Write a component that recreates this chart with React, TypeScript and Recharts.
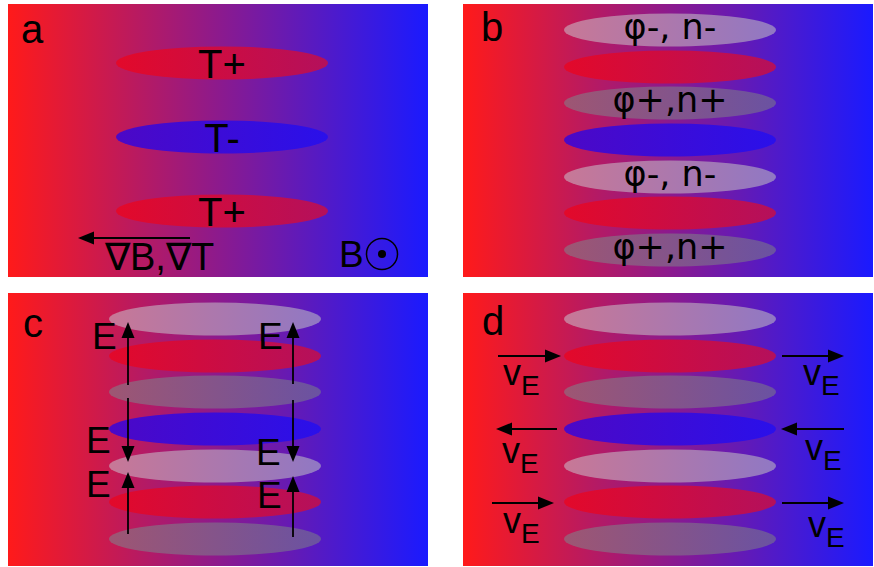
import { ScatterChart, Scatter, XAxis, YAxis, ReferenceArea, ReferenceLine } from "recharts";

const SANS = "'Liberation Sans', Arial, sans-serif";
const DEJAVU = "'DejaVu Sans', sans-serif";

// stripes shared by panels b, c and d (y from panel top)
const stripeRows = [26, 63, 99, 136, 173, 209, 246];
const stripeKinds = ["light", "red", "gray", "blue", "light", "red", "gray"];
const stripeLabelsB = ["φ-, n-", "", "φ+,n+", "", "φ-, n-", "", "φ+,n+"];

// panel a stripes
const rowsA = [59, 133, 207];
const kindsA = ["red", "blue", "red"];
const labelsA = ["T+", "T-", "T+"];

// panel c: E field arrows (x, tail y, tip y) and their labels
const eArrowX = [120, 120, 120, 285, 285, 285];
const eArrowTail = [92, 105, 241, 91, 107, 244];
const eArrowTip = [29, 169, 179, 29, 169, 183];
const eLabelX = [84, 78, 78, 250, 248, 249];
const eLabelY = [56, 160, 204, 56, 172, 215];

// panel d: E x B drift arrows (y, tail x, tip x) and their labels
const vArrowY = [63, 63, 136, 136, 210, 210];
const vArrowTail = [35, 319, 94, 381, 29, 319];
const vArrowTip = [98, 381, 33, 318, 91, 381];
const vLabelX = [40, 340, 39, 342, 40, 345];
const vLabelY = [92, 92, 170, 167, 240, 244];

const STRIPE_X = { a: 214, b: 207 };
const STRIPE_RX = 106;
const STRIPE_RY = 16.5;

const STRIPE_COLORS: Record<string, [string, string]> = {
  red: ["#e3092a", "#b4105c"],
  blue: ["#4c08c6", "#2a10ea"],
  light: ["#c87896", "#9078c4"],
  gray: ["#9e5672", "#6a52a2"],
};

type Stripe = { x: number; y: number; kind: string; label: string };
type Note = { x: number; y: number; kind: string; text: string };
type Arrow = { x1: number; y1: number; x2: number; y2: number };

const stripesA: Stripe[] = rowsA.map((y, i) => ({ x: STRIPE_X.a, y, kind: kindsA[i], label: labelsA[i] }));
const stripesB: Stripe[] = stripeRows.map((y, i) => ({ x: STRIPE_X.b, y, kind: stripeKinds[i], label: stripeLabelsB[i] }));
const stripesPlain: Stripe[] = stripeRows.map((y, i) => ({ x: STRIPE_X.b, y, kind: stripeKinds[i], label: "" }));

const notesA: Note[] = [
  { x: 13, y: 39, kind: "letter", text: "a" },
  { x: 97, y: 266, kind: "big", text: "∇B,∇T" },
  { x: 331, y: 263, kind: "B", text: "B" },
  { x: 374, y: 250, kind: "odot", text: "" },
];
const notesB: Note[] = [{ x: 18, y: 37, kind: "letter", text: "b" }];
const notesC: Note[] = [
  { x: 15, y: 44, kind: "letter", text: "c" },
  ...eLabelX.map((x, i) => ({ x, y: eLabelY[i], kind: "E", text: "E" })),
];
const notesD: Note[] = [
  { x: 19, y: 42, kind: "letter", text: "d" },
  ...vLabelX.map((x, i) => ({ x, y: vLabelY[i], kind: "v", text: "v" })),
];

const arrowsA: Arrow[] = [{ x1: 182, y1: 234, x2: 70, y2: 234 }];
const arrowsC: Arrow[] = eArrowX.map((x, i) => ({ x1: x, y1: eArrowTail[i], x2: x, y2: eArrowTip[i] }));
const arrowsD: Arrow[] = vArrowY.map((y, i) => ({ x1: vArrowTail[i], y1: y, x2: vArrowTip[i], y2: y }));

const arrowShape = (p: any) => {
  const { x1, y1, x2, y2 } = p;
  const len = Math.hypot(x2 - x1, y2 - y1) || 1;
  const ux = (x2 - x1) / len;
  const uy = (y2 - y1) / len;
  const hl = 16;
  const hw = 6.5;
  const bx = x2 - ux * hl;
  const by = y2 - uy * hl;
  const pts = `${x2},${y2} ${bx - uy * hw},${by + ux * hw} ${bx + uy * hw},${by - ux * hw}`;
  return (
    <g>
      <line x1={x1} y1={y1} x2={bx} y2={by} stroke="#000" strokeWidth={1.8} />
      <polygon points={pts} fill="#000" />
    </g>
  );
};

const noteShape = (p: any) => {
  const { cx, cy, payload } = p;
  if (payload.kind === "odot") {
    return (
      <g>
        <circle cx={cx} cy={cy} r={15.5} fill="none" stroke="#000" strokeWidth={1.5} />
        <circle cx={cx} cy={cy} r={4} fill="#000" />
      </g>
    );
  }
  if (payload.kind === "v") {
    return (
      <text x={cx} y={cy} fontFamily={SANS} fontSize={36} fill="#000">
        v<tspan fontSize={28} dy={10}>E</tspan>
      </text>
    );
  }
  const size = { letter: 40, big: 38, B: 37, E: 37 }[payload.kind as "letter"] || 36;
  return (
    <text x={cx} y={cy} fontFamily={SANS} fontSize={size} fill="#000">
      {payload.text}
    </text>
  );
};

function Panel({
  id, left, top, width, height, stripes, notes, arrows, labelFont,
}: {
  id: string; left: number; top: number; width: number; height: number;
  stripes: Stripe[]; notes: Note[]; arrows: Arrow[]; labelFont: "sans" | "dejavu";
}) {
  const stripeShape = (p: any) => {
    const { cx, cy, payload } = p;
    const isSans = labelFont === "sans";
    return (
      <g>
        <ellipse cx={cx} cy={cy} rx={STRIPE_RX} ry={STRIPE_RY} fill={`url(#${id}-${payload.kind})`} />
        {payload.label ? (
          <text
            x={cx}
            y={cy + (isSans ? 15 : 9)}
            textAnchor="middle"
            fontFamily={isSans ? SANS : DEJAVU}
            fontSize={isSans ? 40 : 35}
            fill="#000"
          >
            {payload.label}
          </text>
        ) : null}
      </g>
    );
  };

  return (
    <div style={{ position: "absolute", left, top, width, height }}>
      <ScatterChart width={width} height={height} margin={{ top: 0, right: 0, bottom: 0, left: 0 }}>
        <defs>
          <linearGradient id={`${id}-bg`} x1="0" y1="0" x2="1" y2="0">
            <stop offset="0%" stopColor="#ff1a1a" />
            <stop offset="100%" stopColor="#1a1aff" />
          </linearGradient>
          {Object.entries(STRIPE_COLORS).map(([k, [c1, c2]]) => (
            <linearGradient key={k} id={`${id}-${k}`} x1="0" y1="0" x2="1" y2="0">
              <stop offset="0%" stopColor={c1} />
              <stop offset="100%" stopColor={c2} />
            </linearGradient>
          ))}
        </defs>
        <XAxis type="number" dataKey="x" domain={[0, width]} hide allowDataOverflow />
        <YAxis type="number" dataKey="y" domain={[0, height]} reversed hide allowDataOverflow />
        <ReferenceArea x1={0} x2={width} y1={0} y2={height} fill={`url(#${id}-bg)`} fillOpacity={1} stroke="none" />
        <Scatter data={stripes} shape={stripeShape} isAnimationActive={false} />
        {arrows.map((a, i) => (
          <ReferenceLine
            key={i}
            segment={[{ x: a.x1, y: a.y1 }, { x: a.x2, y: a.y2 }]}
            shape={arrowShape}
            zIndex={800}
          />
        ))}
        <Scatter data={notes} shape={noteShape} isAnimationActive={false} />
      </ScatterChart>
    </div>
  );
}

export default function App() {
  return (
    <div style={{ position: "absolute", left: 0, top: 0, width: 874, height: 567, background: "#fff" }}>
      <Panel id="pa" left={8} top={4} width={420} height={273} stripes={stripesA} notes={notesA} arrows={arrowsA} labelFont="sans" />
      <Panel id="pb" left={463} top={4} width={410} height={273} stripes={stripesB} notes={notesB} arrows={[]} labelFont="dejavu" />
      <Panel id="pc" left={8} top={293} width={420} height={273} stripes={stripesPlain} notes={notesC} arrows={arrowsC} labelFont="sans" />
      <Panel id="pd" left={463} top={293} width={410} height={273} stripes={stripesPlain} notes={notesD} arrows={arrowsD} labelFont="sans" />
    </div>
  );
}
